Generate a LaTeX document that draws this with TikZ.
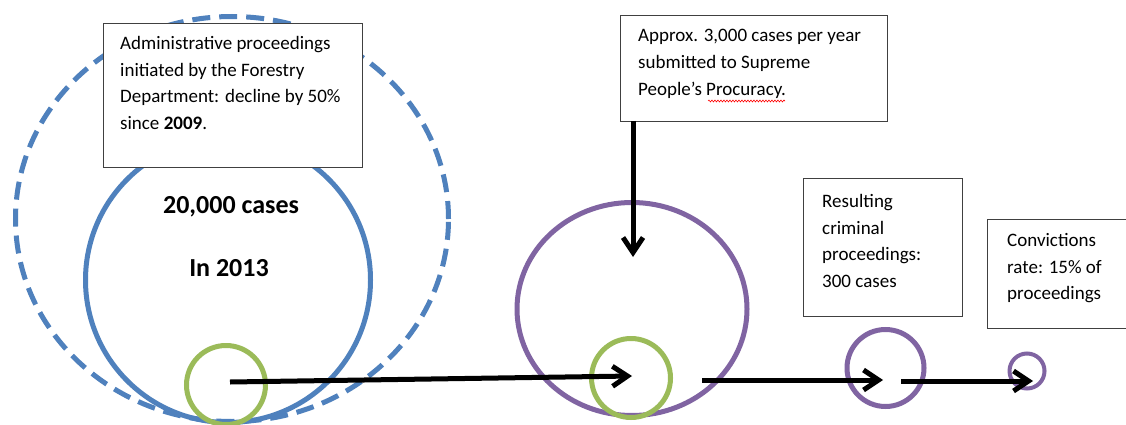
\documentclass[tikz,border=0pt]{standalone}
\usepackage{fontspec}
\setmainfont{Carlito}
\usetikzlibrary{arrows.meta,shapes.geometric,decorations.pathmorphing}
\definecolor{cblue}{HTML}{4F81BD}
\definecolor{cgreen}{HTML}{9BBB59}
\definecolor{cpurple}{HTML}{8064A2}
\definecolor{cbox}{HTML}{404040}
\begin{document}
\begin{tikzpicture}[x=1pt,y=-1pt,
  ring/.style={ellipse, draw, line width=5pt, inner sep=0pt, outer sep=0pt},
  boxnode/.style={rectangle, draw=cbox, line width=1.1pt, fill=white, inner sep=0pt, anchor=north west},
  txt/.style={anchor=north west, inner sep=0pt, align=left, font=\fontsize{19}{26.8}\selectfont},
  big/.style={font=\fontsize{26}{30}\selectfont\bfseries, inner sep=0pt},
  flow/.style={line width=5pt, -{Straight Barb[length=15pt,width=20pt]}}]
\useasboundingbox (0,0) rectangle (1126,425);
\fill[white] (0,0) rectangle (1126,425);
% rings
\node[ring, draw=cblue, dash pattern=on 18pt off 9pt, minimum width=433pt, minimum height=405pt] (outer) at (232,219) {};
\node[ring, draw=cblue, minimum width=285pt, minimum height=285pt] (blue) at (228,280) {};
\node[ring, draw=cgreen, minimum width=79pt, minimum height=79pt] (g1) at (226,385) {};
\node[ring, draw=cpurple, minimum width=230pt, minimum height=213pt] (p1) at (632,309) {};
\node[ring, draw=cgreen, minimum width=79pt, minimum height=79pt] (g2) at (631,378) {};
\node[ring, draw=cpurple, minimum width=77pt, minimum height=77pt] (p2) at (885.5,368) {};
\node[ring, draw=cpurple, line width=4pt, minimum width=35pt, minimum height=35pt] (p3) at (1027,371) {};
% big labels
\node[big] (lab1) at (231,207) {20,000 cases};
\node[big] (lab2) at (229,268) {In 2013};
% boxes
\node[boxnode, minimum width=259pt, minimum height=144pt] (b1) at (103,23) {};
\node[boxnode, minimum width=267pt, minimum height=106pt] (b2) at (620,15) {};
\node[boxnode, minimum width=159pt, minimum height=138pt] (b3) at (803,178) {};
\node[boxnode, minimum width=140pt, minimum height=109pt] (b4) at (987,219) {};
\node[txt] (t1) at (120,36) {Administrative proceedings\\initiated by the Forestry\\Department: decline by 50\%\\since \textbf{2009}.};
\node[txt] (t2) at (638,29) {Approx. 3,000 cases per year\\submitted to Supreme\\People’s Procuracy.};
\node[txt] (t3) at (822,194) {Resulting\\criminal\\proceedings:\\300 cases};
\node[txt] (t4) at (1007,233) {Convictions\\rate: 15\% of\\proceedings};
\draw[red, line width=0.6pt, decorate, decoration={snake, amplitude=0.9pt, segment length=3pt}] (708,101) -- (785,101);
% arrows
\coordinate (a1s) at (230,382);
\coordinate (a1e) at (632,376);
\coordinate (a2s) at (633,121);
\coordinate (a2e) at (633,257);
\coordinate (a3s) at (702,380);
\coordinate (a3e) at (883,380);
\coordinate (a4s) at (901,381);
\coordinate (a4e) at (1033,381);
\draw[flow] (a1s) -- (a1e);
\draw[flow] (a2s) -- (a2e);
\draw[flow] (a3s) -- (a3e);
\draw[flow] (a4s) -- (a4e);
\end{tikzpicture}
\end{document}
